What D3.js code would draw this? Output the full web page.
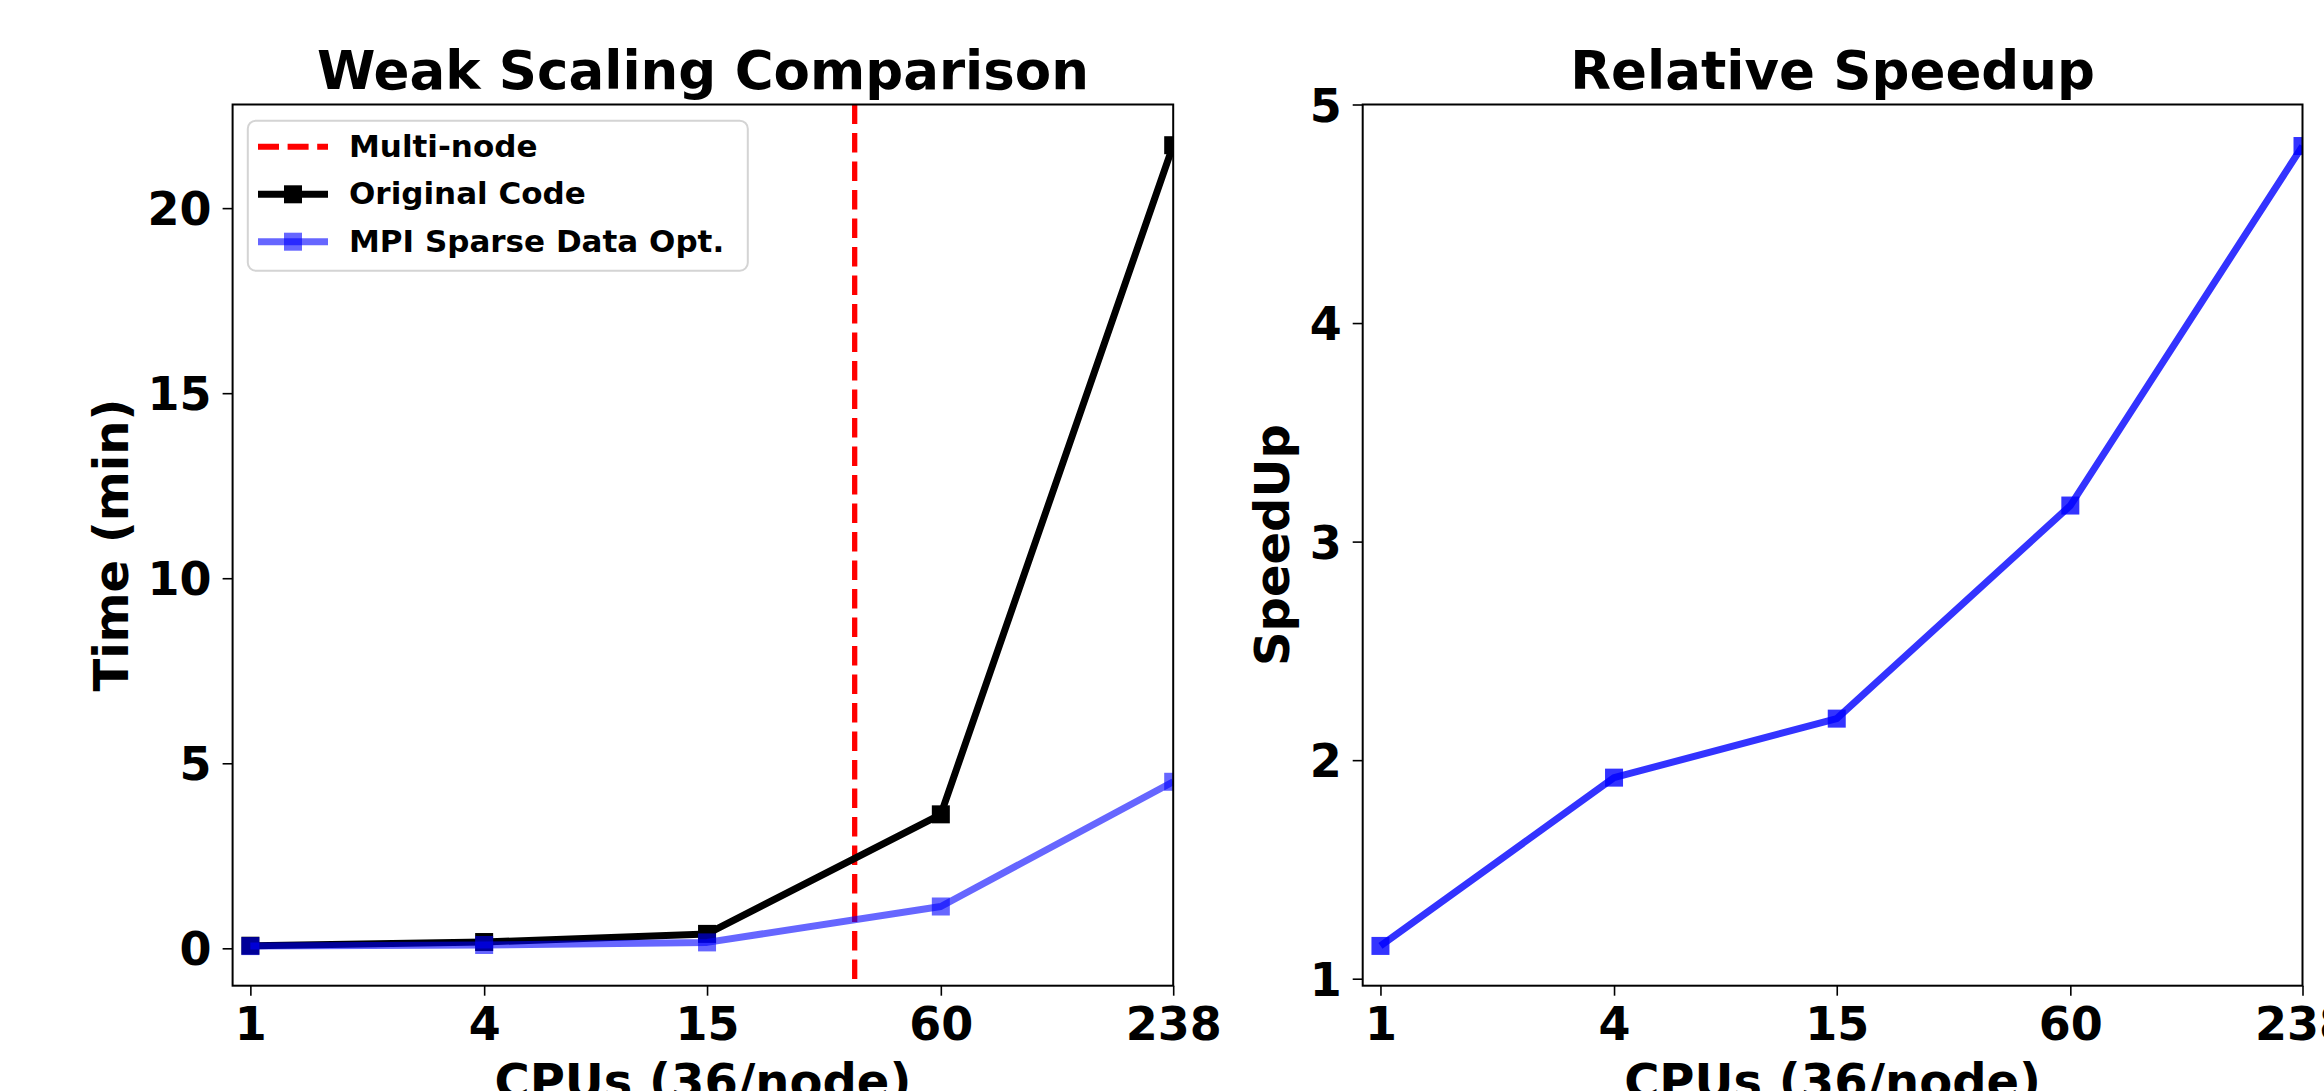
<!DOCTYPE html>
<html>
<head>
<meta charset="utf-8">
<script src="https://cdn.jsdelivr.net/npm/d3@7"></script>
<style>
  html, body { margin: 0; padding: 0; background: #fff; overflow: hidden; }
  svg { display: block; font-family: "DejaVu Sans", sans-serif; font-weight: bold; }
</style>
</head>
<body>
<svg id="chart" width="2324" height="1091"></svg>
<script>
// ---- data ----
const cpus = [1, 4, 15, 60, 238];
const xTickLabels = ["1", "4", "15", "60", "238"];
const originalTime = [0.07, 0.17, 0.39, 3.62, 21.7];
const mpiTime = [0.06, 0.09, 0.16, 1.13, 4.5];
const speedup = [1.15, 1.92, 2.19, 3.165, 4.81];
const multiNodeCpu = 36;
const leftYTicks = [0, 5, 10, 15, 20];
const rightYTicks = [1, 2, 3, 4, 5];
const legendLabels = ["Multi-node", "Original Code", "MPI Sparse Data Opt."];
const titles = ["Weak Scaling Comparison", "Relative Speedup"];
const yLabels = ["Time (min)", "SpeedUp"];
const xLabel = "CPUs (36/node)";

const svg = d3.select("#chart");
svg.append("rect").attr("width", 2324).attr("height", 1091).attr("fill", "#fff");

const LW = 7, MS = 18;

function makeAxes(cfg) {
  const g = svg.append("g");
  const x = d3.scaleLog().domain([0.9, 238]).range([cfg.left, cfg.right]);
  const y = d3.scaleLinear().domain(cfg.ydom).range([cfg.bottom, cfg.top]);
  const clipId = "clip" + cfg.id;
  svg.append("clipPath").attr("id", clipId).append("rect")
    .attr("x", cfg.left).attr("y", cfg.top)
    .attr("width", cfg.right - cfg.left).attr("height", cfg.bottom - cfg.top);
  const plot = g.append("g").attr("clip-path", `url(#${clipId})`);

  // x axis
  const xa = g.append("g").attr("transform", `translate(0,${cfg.bottom})`)
    .call(d3.axisBottom(x).tickValues(cpus).tickFormat((d, i) => xTickLabels[i])
      .tickSize(10).tickSizeOuter(0).tickPadding(11.6));
  xa.select(".domain").remove();
  xa.selectAll(".tick line").attr("stroke", "#000").attr("stroke-width", 1.6);
  xa.selectAll(".tick text").attr("fill", "#000").style("font-size", "46px")
    .style("font-family", "DejaVu Sans").style("font-weight", "bold");

  // y axis
  const ya = g.append("g").attr("transform", `translate(${cfg.left},0)`)
    .call(d3.axisLeft(y).tickValues(cfg.yticks).tickFormat(d3.format("d"))
      .tickSize(10).tickSizeOuter(0).tickPadding(11));
  ya.select(".domain").remove();
  ya.selectAll(".tick line").attr("stroke", "#000").attr("stroke-width", 1.6);
  ya.selectAll(".tick text").attr("fill", "#000").attr("dy", "0.36em").style("font-size", "46px")
    .style("font-family", "DejaVu Sans").style("font-weight", "bold");

  // title
  g.append("text").attr("x", (cfg.left + cfg.right) / 2).attr("y", 89.3)
    .attr("text-anchor", "middle").style("font-size", "53px").text(cfg.title);
  // y label
  g.append("text").attr("transform", `translate(${cfg.ylabX},${(cfg.top + cfg.bottom) / 2}) rotate(-90)`)
    .attr("text-anchor", "middle").style("font-size", "48px").text(cfg.ylabel);
  // x label
  g.append("text").attr("x", (cfg.left + cfg.right) / 2).attr("y", 1098)
    .attr("text-anchor", "middle").style("font-size", "48px").text(xLabel);

  return { g, plot, x, y, cfg };
}

function drawSeries(ax, vals, color, opacity) {
  const line = d3.line().x((d, i) => ax.x(cpus[i])).y(d => ax.y(d));
  ax.plot.append("path").datum(vals).attr("d", line)
    .attr("fill", "none").attr("stroke", color).attr("stroke-width", LW)
    .attr("stroke-linejoin", "round").attr("stroke-linecap", "butt")
    .attr("stroke-opacity", opacity);
  ax.plot.selectAll(null).data(vals).enter().append("rect")
    .attr("x", (d, i) => ax.x(cpus[i]) - MS / 2).attr("y", d => ax.y(d) - MS / 2)
    .attr("width", MS).attr("height", MS).attr("fill", color).attr("fill-opacity", opacity);
}

function frame(ax) {
  const c = ax.cfg;
  ax.g.append("rect").attr("x", c.left).attr("y", c.top)
    .attr("width", c.right - c.left).attr("height", c.bottom - c.top)
    .attr("fill", "none").attr("stroke", "#000").attr("stroke-width", 2);
}

// ---- left panel ----
const left = makeAxes({ id: "L", left: 232.6, right: 1173.2, top: 104.5, bottom: 985.7,
  ydom: [-1.01, 22.8], yticks: leftYTicks, title: titles[0], ylabel: yLabels[0], ylabX: 128.3 });

left.plot.append("line")
  .attr("x1", left.x(multiNodeCpu)).attr("x2", left.x(multiNodeCpu))
  .attr("y1", 104.5).attr("y2", 985.7)
  .attr("stroke", "#ff0000").attr("stroke-width", 5.3).attr("stroke-dasharray", "19.5,9")
  .attr("stroke-dashoffset", 0);
drawSeries(left, originalTime, "#000000", 1);
drawSeries(left, mpiTime, "#0000ff", 0.6);
frame(left);

// legend
const lg = left.g.append("g");
lg.append("rect").attr("x", 247.8).attr("y", 120.7).attr("width", 500).attr("height", 150)
  .attr("rx", 8).attr("ry", 8).attr("fill", "#fff").attr("fill-opacity", 0.8)
  .attr("stroke", "#d4d4d4").attr("stroke-width", 2);
const legY = [146.7, 194.3, 241.7];
legendLabels.forEach((lab, i) => {
  const yy = legY[i];
  if (i === 0) {
    lg.append("line").attr("x1", 258).attr("x2", 328).attr("y1", yy).attr("y2", yy)
      .attr("stroke", "#ff0000").attr("stroke-width", 6).attr("stroke-dasharray", "21,8.6");
  } else {
    const col = i === 1 ? "#000000" : "#0000ff";
    const op = i === 1 ? 1 : 0.6;
    lg.append("line").attr("x1", 258).attr("x2", 328).attr("y1", yy).attr("y2", yy)
      .attr("stroke", col).attr("stroke-width", LW).attr("stroke-opacity", op);
    lg.append("rect").attr("x", 293 - MS / 2).attr("y", yy - MS / 2).attr("width", MS).attr("height", MS)
      .attr("fill", col).attr("fill-opacity", op);
  }
  lg.append("text").attr("x", 349).attr("y", yy + 10).style("font-size", "31px").text(lab);
});

// ---- right panel ----
const right = makeAxes({ id: "R", left: 1362.7, right: 2302.5, top: 104.5, bottom: 985.7,
  ydom: [0.968, 5.0], yticks: rightYTicks, title: titles[1], ylabel: yLabels[1], ylabX: 1289 });
drawSeries(right, speedup, "#0000ff", 0.8);
frame(right);
</script>
</body>
</html>
